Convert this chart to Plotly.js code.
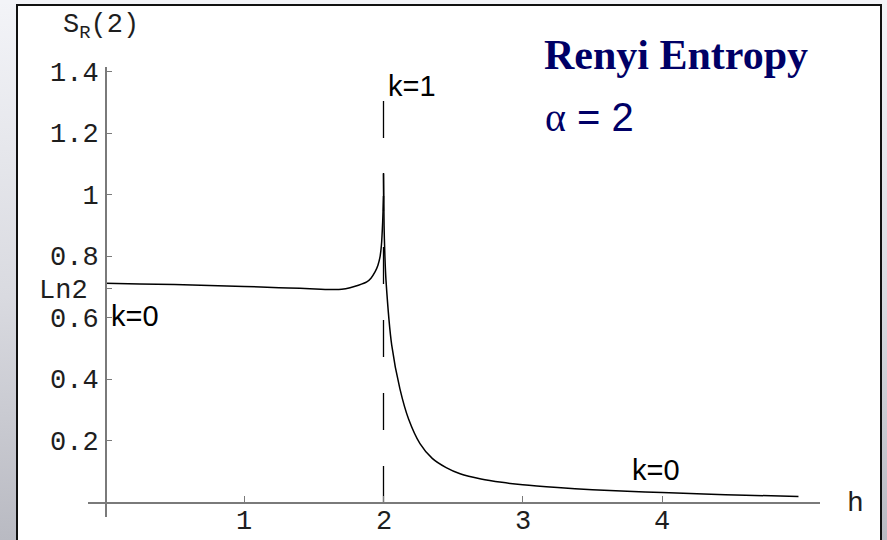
<!DOCTYPE html>
<html>
<head>
<meta charset="utf-8">
<script src="https://cdn.plot.ly/plotly-3.0.1.min.js"></script>
<style>
  html, body { margin: 0; padding: 0; }
  body {
    width: 887px; height: 540px; overflow: hidden; position: relative;
    background: linear-gradient(to bottom, #f3f4f8 0%, #d9dae0 55%, #b9bac2 100%);
  }
  #panel {
    position: absolute; left: 16px; top: 4px; width: 866px; height: 545px;
    background: #ffffff; border: 2.5px solid #111111; box-sizing: border-box;
  }
  #topband {
    position: absolute; left: 0; top: 0; width: 887px; height: 4px; background: #f3f4f8;
  }
  #chart { position: absolute; left: 0; top: 0; width: 887px; height: 540px; }
</style>
</head>
<body>
<div id="topband"></div>
<div id="panel"></div>
<div id="chart"></div>
<script>
// Renyi entropy S_R(2) versus field h, branch below the critical field (k=0)
const hLeft = [0, 0.25, 0.5, 0.75, 1.0, 1.25, 1.4, 1.55, 1.65, 1.7, 1.76, 1.82, 1.88, 1.91, 1.94, 1.96, 1.975, 1.985, 1.994, 2.0];
const sLeft = [0.711, 0.709, 0.707, 0.704, 0.701, 0.697, 0.695, 0.692, 0.691, 0.692, 0.697, 0.705, 0.716, 0.728, 0.749, 0.77, 0.797, 0.835, 0.91, 0.995];

// branch above the critical field (k=0)
const hRight = [2.0, 2.004, 2.01, 2.018, 2.059, 2.118, 2.18, 2.262, 2.35, 2.45, 2.55, 2.7, 2.85, 3.0, 3.25, 3.5, 3.75, 4.0, 4.3, 4.6, 4.98];
const sRight = [1.07, 0.9, 0.8, 0.72, 0.51, 0.368, 0.27, 0.19, 0.142, 0.112, 0.092, 0.075, 0.064, 0.056, 0.047, 0.04, 0.035, 0.031, 0.026, 0.022, 0.018];

// critical field marker (k=1)
const criticalH = [2, 2];
const criticalS = [1.304, 0];

// axis ticks
const xTickVals = [1, 2, 3, 4];
const xTickText = ['1', '2', '3', '4'];
const yTickVals = [0.2, 0.4, 0.6, Math.LN2, 0.8, 1, 1.2, 1.4];
const yTickText = ['0.2', '0.4', '0.6', '', '0.8', '1', '1.2', '1.4'];

const W = 887, H = 540;
const x0px = 105, xUnit = 139.25;   // h = 0 column, pixels per unit h
const y0px = 502, yUnit = 307.5;    // S = 0 row, pixels per unit S
const xLeftPx = 88, xRightPx = 820, yTopPx = 67, yBotPx = 517;
const xLabelRowPx = 522;            // centre row of the h tick labels

const mono = 'Liberation Mono, Courier New, monospace';
const sans = 'Liberation Sans, Arial, sans-serif';
const serif = 'Liberation Serif, Times New Roman, serif';
const axisGray = '#7a7a7a';
const navy = '#000066';
const textCol = '#1e1e1e';

const curveLine = { color: '#000000', width: 1.5, shape: 'spline', smoothing: 0.8 };

const traces = [
  { x: hLeft, y: sLeft, mode: 'lines', line: curveLine, hoverinfo: 'skip' },
  { x: hRight, y: sRight, mode: 'lines', line: curveLine, hoverinfo: 'skip' },
  { x: criticalH, y: criticalS, mode: 'lines',
    line: { color: '#000000', width: 1.3, dash: '37px,36px' }, hoverinfo: 'skip' }
];

// h tick labels sit just under the axis line
const xLabelNotes = xTickVals.map((v, i) => ({
  xref: 'x', yref: 'paper', x: v, y: 1 - xLabelRowPx / H,
  xanchor: 'center', yanchor: 'middle', showarrow: false,
  text: xTickText[i], font: { family: mono, size: 27, color: textCol }
}));

const layout = {
  width: W, height: H,
  margin: { l: 0, r: 0, t: 0, b: 0 },
  paper_bgcolor: 'rgba(0,0,0,0)',
  plot_bgcolor: 'rgba(0,0,0,0)',
  showlegend: false,
  xaxis: {
    domain: [xLeftPx / W, xRightPx / W],
    range: [(xLeftPx - x0px) / xUnit, (xRightPx - x0px) / xUnit],
    anchor: 'free', position: 1 - y0px / H,
    showline: true, linecolor: axisGray, linewidth: 1.5,
    ticks: 'inside', ticklen: 6, tickwidth: 1, tickcolor: axisGray,
    tickmode: 'array', tickvals: xTickVals, showticklabels: false,
    showgrid: false, zeroline: false
  },
  yaxis: {
    domain: [1 - yBotPx / H, 1 - yTopPx / H],
    range: [(y0px - yBotPx) / yUnit, (y0px - yTopPx) / yUnit],
    anchor: 'free', position: x0px / W,
    showline: true, linecolor: axisGray, linewidth: 1.5,
    ticks: 'inside', ticklen: 5, tickwidth: 1, tickcolor: axisGray,
    tickmode: 'array', tickvals: yTickVals, ticktext: yTickText,
    tickfont: { family: mono, size: 27, color: textCol },
    ticklabelstandoff: 1,
    showgrid: false, zeroline: false
  },
  annotations: xLabelNotes.concat([
    { xref: 'paper', yref: 'paper', x: 61 / W, y: 1 - 27 / H, xanchor: 'left', yanchor: 'middle',
      text: 'S<sub>R</sub>(2)', showarrow: false, font: { family: mono, size: 27, color: textCol } },
    { xref: 'paper', yref: 'paper', x: 90 / W, y: 1 - 291 / H, xanchor: 'right', yanchor: 'middle',
      text: 'Ln2', showarrow: false, font: { family: mono, size: 27, color: textCol } },
    { xref: 'paper', yref: 'paper', x: 855 / W, y: 1 - 503 / H, xanchor: 'center', yanchor: 'middle',
      text: 'h', showarrow: false, font: { family: mono, size: 28, color: textCol } },
    { xref: 'x', yref: 'y', x: 2.205, y: 1.353, xanchor: 'center', yanchor: 'middle',
      text: 'k=1', showarrow: false, font: { family: sans, size: 29, color: '#000000' } },
    { xref: 'x', yref: 'y', x: 0.215, y: 0.605, xanchor: 'center', yanchor: 'middle',
      text: 'k=0', showarrow: false, font: { family: sans, size: 29, color: '#000000' } },
    { xref: 'x', yref: 'y', x: 3.957, y: 0.104, xanchor: 'center', yanchor: 'middle',
      text: 'k=0', showarrow: false, font: { family: sans, size: 29, color: '#000000' } },
    { xref: 'paper', yref: 'paper', x: 542 / W, y: 1 - 55 / H, xanchor: 'left', yanchor: 'middle',
      text: '<b>Renyi Entropy</b>', showarrow: false, font: { family: serif, size: 42, color: navy } },
    { xref: 'paper', yref: 'paper', x: 543 / W, y: 1 - 117 / H, xanchor: 'left', yanchor: 'middle',
      text: '<span style="font-family:Liberation Serif">α</span> = 2', showarrow: false,
      font: { family: sans, size: 40, color: navy } }
  ])
};

Plotly.newPlot('chart', traces, layout, { staticPlot: true, displayModeBar: false });
</script>
</body>
</html>
